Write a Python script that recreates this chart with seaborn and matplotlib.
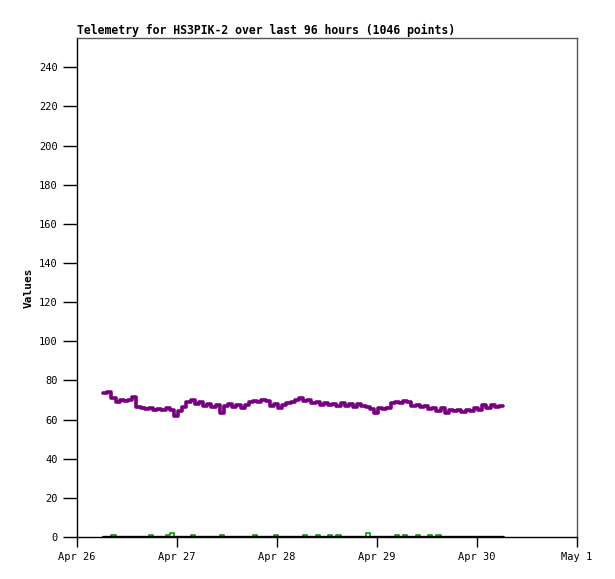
import pandas as pd
import matplotlib
matplotlib.use("Agg")
import matplotlib.pyplot as plt
import matplotlib.dates as mdates
from matplotlib.ticker import FuncFormatter
import seaborn as sns

# hourly samples, Apr 26 06:15 -> Apr 30 06:15 (96 h)
start = "2024-04-26 06:15"
n_hours = 97

purple_vals = [
    73.5, 74, 71, 69, 70, 69.5, 70, 71.5, 66.5, 66,
    65.5, 66, 65, 65.5, 65, 66, 65, 62, 64.5, 66.5,
    69, 70, 68, 69, 67, 68, 66.5, 67.5, 63.5, 67,
    68, 66.5, 67.5, 66, 67.5, 69, 69.5, 69, 70, 69.5,
    67, 68, 66, 67.5, 68.5, 69, 70, 71, 69.5, 70,
    68.5, 69, 67.5, 68.5, 67.5, 68, 67, 68.5, 67, 68,
    66.5, 68, 67, 66.5, 65.5, 63.5, 66, 65.5, 66, 68.5,
    69, 68.5, 69.5, 69, 67, 67.5, 66.5, 67, 65.5, 66,
    64.5, 66, 63.5, 65, 64.5, 65, 64, 65, 64.5, 66,
    65, 67.5, 66, 67.5, 66.5, 67, 67,
]

green_vals = [0] * n_hours
for h, v in [(2, 1), (11, 1), (15, 1), (16, 2), (21, 1), (28, 1), (36, 1),
             (41, 1), (48, 1), (51, 1), (54, 1), (56, 1), (63, 2), (70, 1),
             (72, 1), (75, 1), (78, 1), (80, 1)]:
    green_vals[h] = v

black_vals = [0] * n_hours

times = pd.date_range(start, periods=n_hours, freq="h")
df = pd.DataFrame({"time": times, "purple": purple_vals,
                   "green": green_vals, "black": black_vals})

sns.set_style("white")
plt.rcParams["font.family"] = ["DejaVu Sans Mono"]
plt.rcParams["text.color"] = "black"
plt.rcParams["axes.labelcolor"] = "black"
plt.rcParams["xtick.color"] = "black"
plt.rcParams["ytick.color"] = "black"

fig = plt.figure(figsize=(6.15, 5.79), dpi=100)
ax = fig.add_axes([0.1252, 0.0725, 0.813, 0.8619])

sns.lineplot(data=df, x="time", y="green", color="#00a000", linewidth=1.2,
             drawstyle="steps-post", ax=ax)
sns.lineplot(data=df, x="time", y="black", color="black", linewidth=2.4,
             drawstyle="steps-post", ax=ax)
sns.lineplot(data=df, x="time", y="purple", color="#770080", linewidth=2.6,
             drawstyle="steps-post", ax=ax)

ax.set_xlim(pd.Timestamp("2024-04-26"), pd.Timestamp("2024-05-01"))
ax.set_ylim(0, 255)
ax.set_yticks(range(0, 241, 20))
ax.xaxis.set_major_locator(mdates.DayLocator())
ax.xaxis.set_major_formatter(FuncFormatter(
    lambda x, pos: mdates.num2date(x).strftime("%b ") + str(mdates.num2date(x).day)))

ax.tick_params(axis="both", which="major", direction="out", length=7,
               width=1, color="black", labelcolor="black", labelsize=7.5,
               pad=4, left=True, bottom=True)
ax.tick_params(axis="y", length=10)

for side in ["left", "bottom"]:
    ax.spines[side].set_color("black")
    ax.spines[side].set_linewidth(1)
for side in ["top", "right"]:
    ax.spines[side].set_color("#555555")
    ax.spines[side].set_linewidth(1)

ax.set_xlabel("")
ax.set_ylabel("Values", fontsize=8, fontweight="bold", labelpad=4, color="black")
ax.set_title("Telemetry for HS3PIK-2 over last 96 hours (1046 points)",
             loc="left", fontsize=8.3, fontweight="bold", pad=3, color="black")

plt.savefig("out.png", dpi=100)
